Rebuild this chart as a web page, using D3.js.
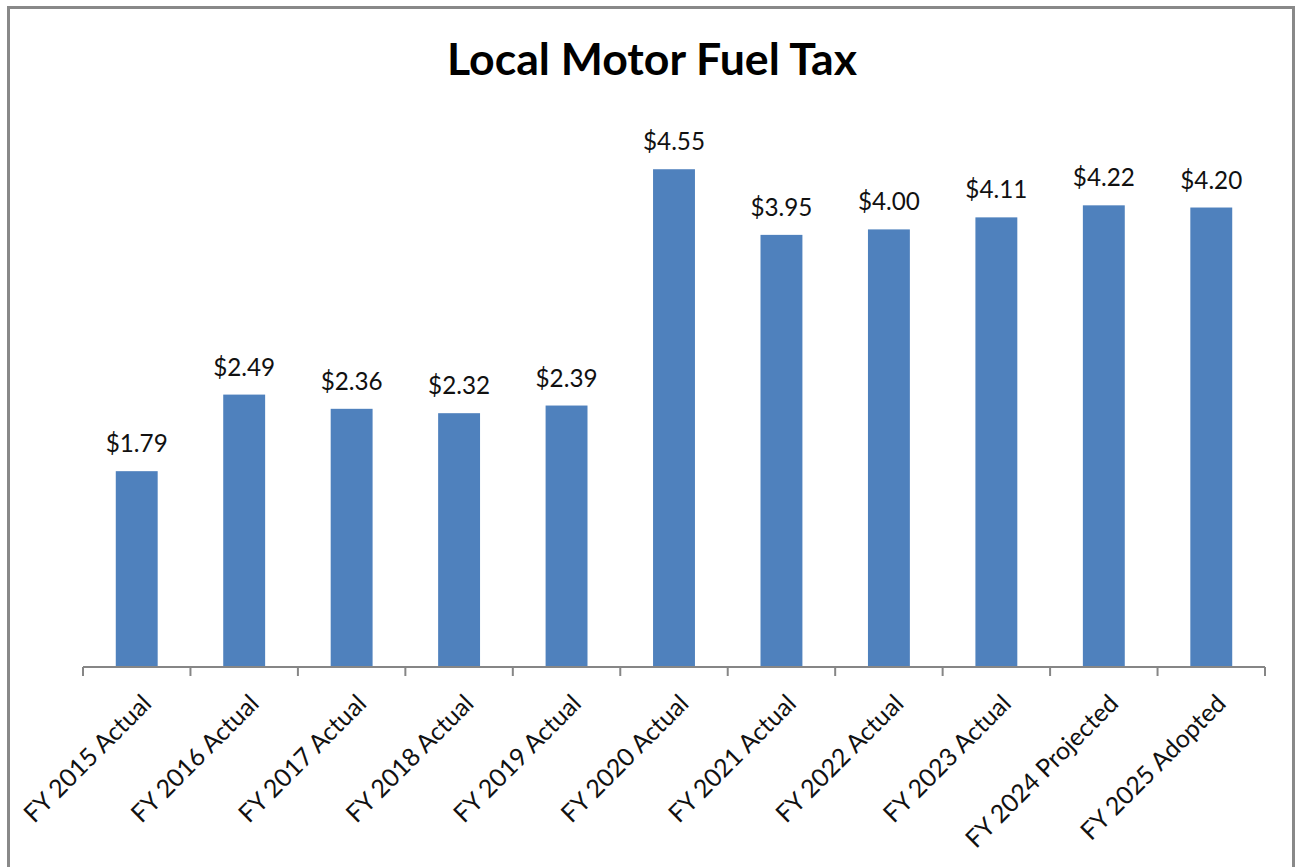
<!DOCTYPE html>
<html>
<head>
<meta charset="utf-8">
<script src="https://cdn.jsdelivr.net/npm/d3@7"></script>
<style>
  body { margin: 0; background: #fff; }
  svg { display: block; }
</style>
</head>
<body>
<svg id="chart" width="1295" height="867"></svg>
<script>
'use strict';

// chart data
var categories = ['FY 2015 Actual', 'FY 2016 Actual', 'FY 2017 Actual', 'FY 2018 Actual',
  'FY 2019 Actual', 'FY 2020 Actual', 'FY 2021 Actual', 'FY 2022 Actual',
  'FY 2023 Actual', 'FY 2024 Projected', 'FY 2025 Adopted'];
var values = [1.79, 2.49, 2.36, 2.32, 2.39, 4.55, 3.95, 4.00, 4.11, 4.22, 4.20];
var title = 'Local Motor Fuel Tax';

var svg = d3.select('#chart');
var font = 'Lato, "Open Sans", sans-serif';

// outer frame
svg.append('rect')
  .attr('x', 8.5).attr('y', 7.5)
  .attr('width', 1285).attr('height', 900)
  .attr('fill', '#fff')
  .attr('stroke', '#898989')
  .attr('stroke-width', 3);

var plot = { left: 83, right: 1265, top: 120, bottom: 667 };

var x = d3.scaleBand()
  .domain(categories)
  .range([plot.left, plot.right])
  .paddingInner(0.61)
  .paddingOuter(0.305);

var y = d3.scaleLinear()
  .domain([0, 5])
  .range([plot.bottom, plot.top]);

// title, sized to the reference width
var t = svg.append('text')
  .attr('x', 652).attr('y', 75)
  .attr('text-anchor', 'middle')
  .attr('font-family', font)
  .attr('font-weight', 'bold')
  .attr('font-size', 36)
  .attr('fill', '#000')
  .text(title);
t.attr('font-size', 36 * 410 / t.node().getComputedTextLength());

// bars
svg.append('g').selectAll('rect')
  .data(values)
  .join('rect')
  .attr('x', function(d, i) { return x(categories[i]); })
  .attr('y', function(d) { return y(d); })
  .attr('width', x.bandwidth())
  .attr('height', function(d) { return y(0) - y(d); })
  .attr('fill', '#4F81BD');

// value labels
var labels = svg.append('g').selectAll('text')
  .data(values)
  .join('text')
  .attr('x', function(d, i) { return x(categories[i]) + x.bandwidth() / 2; })
  .attr('y', function(d) { return y(d) - 19; })
  .attr('text-anchor', 'middle')
  .attr('font-family', font)
  .attr('font-size', 22)
  .attr('fill', '#111')
  .text(function(d) { return '$' + d.toFixed(2); });
var lw = labels.nodes()[5].getComputedTextLength();
labels.attr('font-size', 22 * 62 / lw);

// category axis
var step = x.step();
var axis = svg.append('g');
axis.append('line')
  .attr('x1', plot.left).attr('x2', plot.right)
  .attr('y1', plot.bottom).attr('y2', plot.bottom)
  .attr('stroke', '#868686').attr('stroke-width', 2);
axis.selectAll('line.tick')
  .data(d3.range(categories.length + 1))
  .join('line')
  .attr('class', 'tick')
  .attr('x1', function(i) { return plot.left + i * step; })
  .attr('x2', function(i) { return plot.left + i * step; })
  .attr('y1', plot.bottom).attr('y2', plot.bottom + 9)
  .attr('stroke', '#868686').attr('stroke-width', 2);

var cats = axis.selectAll('text')
  .data(categories)
  .join('text')
  .attr('transform', function(d) {
    return 'translate(' + (x(d) + x.bandwidth() / 2 + 10) + ',' + (plot.bottom + 32) + ') rotate(-45)';
  })
  .attr('text-anchor', 'end')
  .attr('dy', '0.35em')
  .attr('font-family', font)
  .attr('font-size', 22)
  .attr('fill', '#111')
  .text(function(d) { return d; });
var cw = cats.nodes()[1].getComputedTextLength();
cats.attr('font-size', 22 * 168 / cw);
</script>
</body>
</html>
